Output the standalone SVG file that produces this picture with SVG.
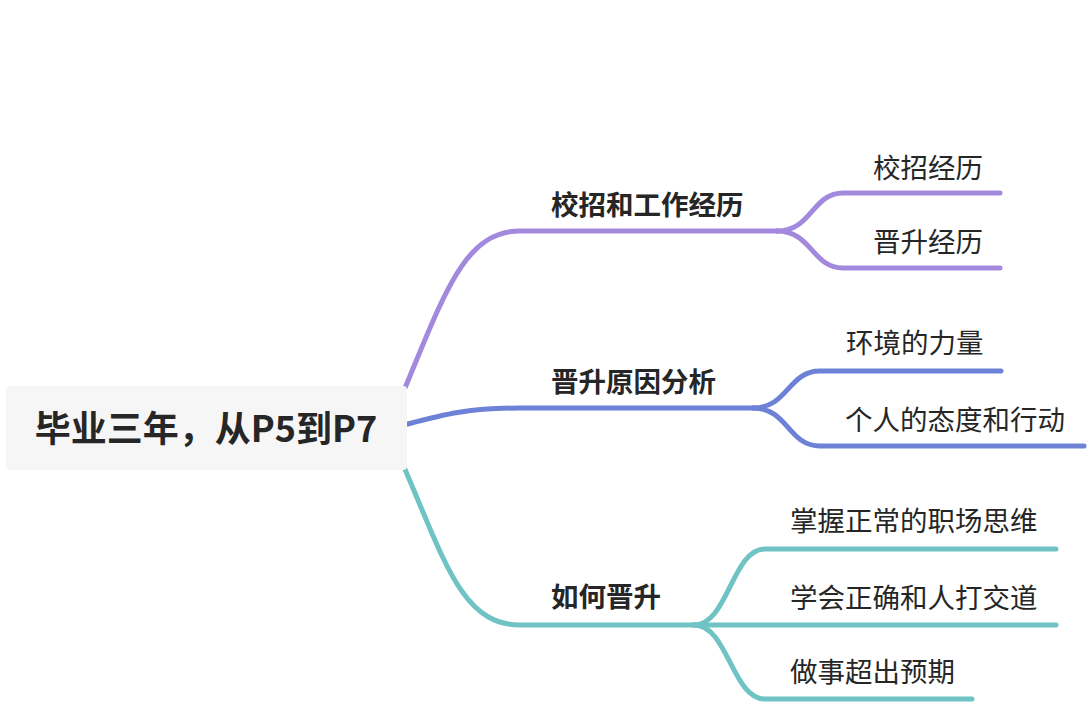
<svg xmlns="http://www.w3.org/2000/svg" width="1090" height="704" viewBox="0 0 1090 704">
<style>
  text { font-family: "Noto Sans CJK SC", "Noto Sans", sans-serif; fill: #262626; }
  .root { font-size: 36px; font-weight: 600; }
  .l1 { font-size: 27.5px; font-weight: 600; }
  .l2 { font-size: 27.5px; font-weight: 400; }
  .c { fill: none; stroke-width: 5; stroke-linecap: round; stroke-linejoin: round; }
  .p { stroke: #a389dd; }
  .b { stroke: #6d82d7; }
  .t { stroke: #6fc3c4; }
</style>
<rect width="1090" height="704" fill="#ffffff"/>
<g id="connectors">
  <path class="c p" d="M405,388 C445,292 465,231 520,231 L777,231"/>
  <path class="c p" d="M777,231 C812,231 812,193 843,193 L1000,193"/>
  <path class="c p" d="M777,231 C812,231 812,268 843,268 L1000,268"/>
  <path class="c b" d="M408,424 C445,414 470,408 520,408 L753,408"/>
  <path class="c b" d="M753,408 C788,408 788,371 820,371 L1001,371"/>
  <path class="c b" d="M753,408 C788,408 788,446 820,446 L1084,446"/>
  <path class="c t" d="M404,467 C445,562 462,625 520,625 L694,625"/>
  <path class="c t" d="M694,625 C728,625 732,549 765,549 L1056,549"/>
  <path class="c t" d="M694,625 L1056,625"/>
  <path class="c t" d="M694,625 C728,625 732,699 765,699 L972,699"/>
</g>
<g id="root">
  <rect x="6" y="386" width="401" height="84" rx="4" fill="#f6f6f6"/>
  <text class="root" x="206" y="442" text-anchor="middle">毕业三年，从P5到P7</text>
</g>
<g id="n1"><text class="l1" x="551" y="215">校招和工作经历</text></g>
<g id="n1a"><text class="l2" x="873" y="178">校招经历</text></g>
<g id="n1b"><text class="l2" x="873" y="252">晋升经历</text></g>
<g id="n2"><text class="l1" x="551" y="392">晋升原因分析</text></g>
<g id="n2a"><text class="l2" x="846" y="353">环境的力量</text></g>
<g id="n2b"><text class="l2" x="845" y="430">个人的态度和行动</text></g>
<g id="n3"><text class="l1" x="551" y="607">如何晋升</text></g>
<g id="n3a"><text class="l2" x="790" y="531">掌握正常的职场思维</text></g>
<g id="n3b"><text class="l2" x="790" y="608">学会正确和人打交道</text></g>
<g id="n3c"><text class="l2" x="790" y="682">做事超出预期</text></g>
</svg>
